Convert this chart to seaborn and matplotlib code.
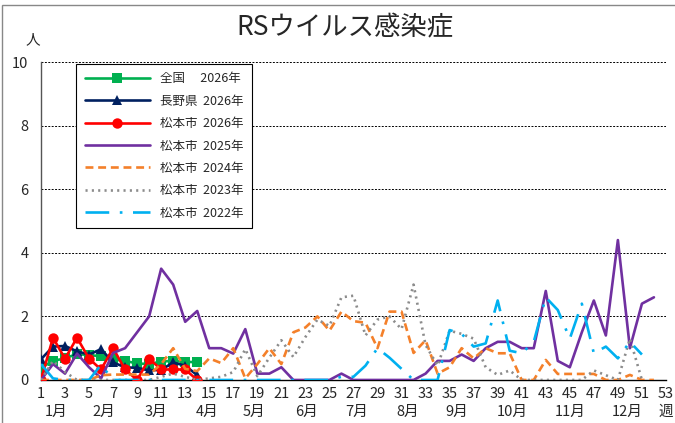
import matplotlib
matplotlib.use("Agg")
import matplotlib.pyplot as plt
from matplotlib.patches import Rectangle
import seaborn as sns

# 週ごとの定点当たり報告数
weeks_2026 = list(range(1, 15))
zenkoku_2026 = [0.38, 0.60, 0.68, 0.82, 0.78, 0.75, 0.65, 0.60, 0.52, 0.50, 0.58, 0.60, 0.57, 0.56]
nagano_2026 = [0.65, 1.05, 1.07, 0.90, 0.80, 0.97, 0.55, 0.40, 0.38, 0.30, 0.32, 0.55, 0.45, 0.15]
matsumoto_2026 = [0, 1.33, 0.67, 1.33, 0.67, 0.33, 1.00, 0.33, 0, 0.67, 0.33, 0.33, 0.33, 0]

weeks_2025 = list(range(1, 53))
matsumoto_2025 = [0.0, 0.5, 0.2, 0.83, 0.4, 0.05, 0.85, 1.0, 1.5, 2.0,
                  3.5, 3.0, 1.83, 2.17, 1.0, 1.0, 0.83, 1.6, 0.2, 0.2,
                  0.4, 0, 0, 0, 0, 0.2, 0, 0, 0, 0,
                  0, 0, 0.2, 0.6, 0.6, 0.8, 0.6, 1.0, 1.2, 1.2,
                  1.0, 1.0, 2.8, 0.6, 0.4, 1.5, 2.5, 1.4, 4.4, 1.0,
                  2.4, 2.6]

weeks_2024 = list(range(1, 53))
matsumoto_2024 = [0, 0, 0, 0, 0, 0.15, 0.17, 0.17, 0.17, 0.17,
                  0.5, 1.0, 0.35, 0.28, 0.68, 0.53, 1.0, 0.05, 0.5, 1.0,
                  0.5, 1.5, 1.65, 2.0, 1.55, 2.15, 1.85, 1.8, 1.0, 2.15,
                  2.15, 0.85, 1.25, 0.2, 0.4, 1.0, 0.68, 1.0, 0.84, 0.84,
                  0, 0, 0.63, 0.19, 0.19, 0.19, 0.19, 0, 0, 0.16,
                  0, 0]

weeks_2023 = list(range(1, 52))
matsumoto_2023 = [0, 0.6, 0.25, 0, 0, 0, 0, 0, 0, 0,
                  0.1, 0.2, 0.1, 0, 0.05, 0.1, 0.25, 0.97, 0.12, 0.7,
                  1.25, 0.72, 1.35, 1.9, 1.7, 2.6, 2.65, 1.4, 1.9, 2.0,
                  1.6, 3.0, 1.1, 0.45, 1.55, 1.45, 1.3, 0.4, 0.16, 0.3,
                  0, 0, 0, 0, 0, 0, 0.3, 0.15, 0, 1.3,
                  0]

weeks_2022 = list(range(1, 52))
matsumoto_2022 = [0.5, 0.05, 0, 0, 0, 0.48, 0, 0, 0, 0,
                  0, 0, 0, 0, 0, 0, 0, 0, 0, 0,
                  0, 0, 0, 0, 0, 0.1, 0.1, 0.45, 1.0, 0.7,
                  0.35, 0, 0, 0, 1.57, 1.45, 1.05, 1.15, 2.5, 0.92,
                  0.84, 1.2, 2.6, 2.2, 1.3, 2.4, 0.84, 1.05, 0.68, 1.2,
                  0.8]

month_names = ["1月", "2月", "3月", "4月", "5月", "6月",
               "7月", "8月", "9月", "10月", "11月", "12月"]
month_pos = [2.25, 6.25, 10.6, 14.8, 18.75, 23.1, 27.25, 31.5, 35.6, 40.25, 45.0, 49.75]

sns.set_style("white")
plt.rcParams["font.family"] = ["Noto Sans CJK JP", "DejaVu Sans"]

fig = plt.figure(figsize=(6.75, 4.23), dpi=100)
ax = fig.add_axes([0.0607, 0.1017, 0.9259, 0.7517])

series = [
    (weeks_2026, zenkoku_2026, "全国　 2026年", "#00B050", "-", "s", 7),
    (weeks_2026, nagano_2026, "長野県  2026年", "#002060", "-", "^", 7),
    (weeks_2026, matsumoto_2026, "松本市  2026年", "#FF0000", "-", "o", 7.5),
    (weeks_2025, matsumoto_2025, "松本市  2025年", "#7030A0", "-", None, 0),
    (weeks_2024, matsumoto_2024, "松本市  2024年", "#F4802A", (0, (3, 1.8)), None, 0),
    (weeks_2023, matsumoto_2023, "松本市  2023年", "#8C8C8C", (0, (0.8, 1.6)), None, 0),
    (weeks_2022, matsumoto_2022, "松本市  2022年", "#00B0F0", (0, (9, 4, 1, 4)), None, 0),
]

for i, (x, y, lab, col, ls, mk, ms) in enumerate(series):
    sns.lineplot(x=x, y=y, ax=ax, color=col, linestyle=ls, marker=mk,
                 markersize=ms, markeredgewidth=0, linewidth=1.9,
                 label=lab, zorder=3 + i)

ax.set_xlim(1, 53)
ax.set_ylim(0, 10)
ax.set_xticks(range(1, 54))
ax.set_xticklabels([str(w) if w % 2 == 1 else "" for w in range(1, 54)], fontsize=10.5)
ax.set_yticks([0, 2, 4, 6, 8, 10])
ax.set_yticklabels(["0", "2", "4", "6", "8", "10"], fontsize=10.5)
ax.tick_params(axis="x", direction="in", length=4, width=0.8, pad=5, color="black")
ax.tick_params(axis="y", length=0, pad=9)
ax.set_xlabel("")
ax.set_ylabel("")

for yv in [2, 4, 6, 8, 10]:
    ax.axhline(yv, color="black", linestyle=(0, (2, 1.5)), linewidth=0.7, zorder=1)

for s in ["top", "right"]:
    ax.spines[s].set_visible(False)
ax.spines["left"].set_color("#555555")
ax.spines["left"].set_linewidth(1.0)
ax.spines["bottom"].set_color("black")
ax.spines["bottom"].set_linewidth(1.0)

for name, pos in zip(month_names, month_pos):
    ax.text(pos, -0.1, name, transform=ax.get_xaxis_transform(),
            ha="center", va="center", fontsize=10.5)

ax.text(-0.013, 1.069, "人", transform=ax.transAxes, ha="center", va="center", fontsize=10.5)
ax.text(1.0, -0.1, "週", transform=ax.transAxes, ha="center", va="center", fontsize=10.5)

fig.text(0.511, 0.934, "RSウイルス感染症", ha="center", va="center", fontsize=19)

leg = ax.legend(loc="upper left", bbox_to_anchor=(0.056, 0.995), borderaxespad=0,
                fontsize=9, handlelength=5.2, labelspacing=0.75, borderpad=0.7,
                frameon=True, fancybox=False, edgecolor="black", framealpha=1)
leg.get_frame().set_linewidth(0.8)
leg.set_zorder(20)

fig.patches.append(Rectangle((0.003, -0.05), 1.1, 1.038, transform=fig.transFigure,
                             fill=False, edgecolor="#888888", linewidth=1.0))

fig.savefig("out.png", dpi=100)
